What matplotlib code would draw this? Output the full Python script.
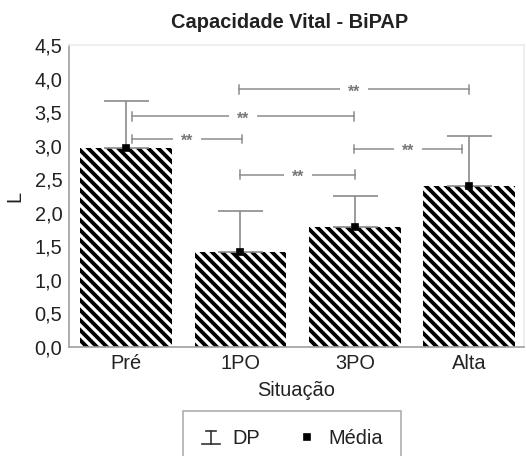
import matplotlib
matplotlib.use("Agg")
import matplotlib.pyplot as plt
from matplotlib.lines import Line2D
from matplotlib.legend_handler import HandlerBase

plt.rcParams['font.family'] = ['Liberation Sans', 'DejaVu Sans']
plt.rcParams['hatch.linewidth'] = 2.3

categories = ["Pré", "1PO", "3PO", "Alta"]
means = [2.97, 1.41, 1.79, 2.40]
sds = [0.69, 0.62, 0.46, 0.74]

# significance brackets (start x, end x, height)
br_x1 = [0.99, 0.05, 0.05, 1.99, 1.00]
br_x2 = [3.00, 1.99, 1.01, 2.94, 2.00]
br_y = [3.84, 3.44, 3.10, 2.95, 2.57]
br_label = "**"

yticks = [0.0, 0.5, 1.0, 1.5, 2.0, 2.5, 3.0, 3.5, 4.0, 4.5]

DPI = 120
FS = 12
fig = plt.figure(figsize=(526 / DPI, 456 / DPI), dpi=DPI)
ax = fig.add_axes([69 / 526, 1 - 347 / 456, (524 - 69) / 526, (347 - 45) / 456])

x = list(range(len(categories)))
ax.bar(x, means, width=0.8, color="white", edgecolor="black", linewidth=0,
       hatch="\\\\\\\\", zorder=2)
ax.errorbar(x, means, yerr=[[0] * len(sds), sds], fmt="none", ecolor="#8a8a8a",
            elinewidth=1.0, capsize=13.5, capthick=1.0, zorder=3)
ax.plot(x, means, linestyle="none", marker="s", markersize=3.6, color="black", zorder=4)

gray = "#8a8a8a"
for x1, x2, y in zip(br_x1, br_x2, br_y):
    ax.plot([x1, x2], [y, y], color=gray, lw=0.9, zorder=3)
    for xe in (x1, x2):
        ax.plot([xe, xe], [y - 0.065, y + 0.065], color=gray, lw=0.9, zorder=3)
    ax.text((x1 + x2) / 2, y - 0.04, br_label, ha="center", va="center", fontsize=9.5,
            color="#777777", fontweight="bold",
            bbox=dict(boxstyle="square,pad=0.5", fc="white", ec="none"), zorder=4)

ax.set_xlim(-0.5, 3.48)
ax.set_ylim(0, 4.5)
ax.set_yticks(yticks)
ax.set_yticklabels([f"{v:.1f}".replace(".", ",") for v in yticks], fontsize=FS, color="#222222")
ax.set_xticks(x)
ax.set_xticklabels(categories, fontsize=FS, color="#222222")
ax.tick_params(length=0, pad=4)
ax.tick_params(axis="x", pad=4)
for s in ("left", "bottom"):
    ax.spines[s].set_color("#a0a0a0")
    ax.spines[s].set_linewidth(1.0)
for s in ("top", "right"):
    ax.spines[s].set_color("#ececec")
    ax.spines[s].set_linewidth(1.0)

ax.set_xlabel("Situação", fontsize=FS, color="#222222", labelpad=5)
ax.set_ylabel("L", fontsize=FS, color="#222222", labelpad=6)
fig.text(290 / 526, 1 - 23 / 456, "Capacidade Vital - BiPAP", ha="center", va="center",
         fontsize=12, fontweight="bold", color="#222222")


class DPHandler(HandlerBase):
    def create_artists(self, legend, orig_handle, xdescent, ydescent, width, height, fontsize, trans):
        cx = width / 2 - xdescent
        top = height * 0.9
        bot = height * 0.0
        a = Line2D([cx, cx], [bot, top], color="#333333", lw=1.0, transform=trans)
        b = Line2D([cx - width * 0.25, cx + width * 0.25], [top, top], color="#333333", lw=1.0, transform=trans)
        c = Line2D([cx - width * 0.45, cx + width * 0.45], [bot, bot], color="#333333", lw=1.0, transform=trans)
        return [a, b, c]


class DPKey:
    pass


dp_handle = DPKey()
media_handle = Line2D([], [], linestyle="none", marker="s", markersize=4.0, color="black")
leg = fig.legend([dp_handle, media_handle], ["DP", "Média"],
                 handler_map={DPKey: DPHandler()},
                 loc="upper center", bbox_to_anchor=(292 / 526, 1 - 411 / 456),
                 borderaxespad=0, ncol=2, frameon=True, fancybox=False, edgecolor="#999999",
                 fontsize=FS, handlelength=1.0, handletextpad=0.6, columnspacing=1.8,
                 borderpad=0.9)
leg.get_frame().set_linewidth(1.0)
for t in leg.get_texts():
    t.set_color("#222222")

fig.savefig("out.png", dpi=DPI)
